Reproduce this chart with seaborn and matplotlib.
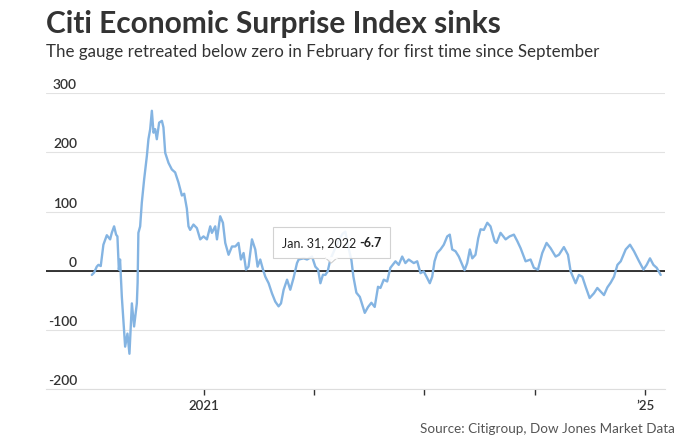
import matplotlib
matplotlib.use("Agg")
import matplotlib.pyplot as plt
import seaborn as sns
import pandas as pd
from matplotlib.patches import Rectangle, Polygon

sns.set_theme(style="white")
plt.rcParams['font.family'] = ['Lato', 'DejaVu Sans']

# Citi Economic Surprise Index (x in fractional years)
years = [
    2019.988, 2020.009, 2020.033, 2020.048, 2020.069, 2020.093, 2020.124, 2020.154,
    2020.169, 2020.190, 2020.208, 2020.220, 2020.233, 2020.244, 2020.260, 2020.274,
    2020.290, 2020.311, 2020.329, 2020.351, 2020.371, 2020.396, 2020.403, 2020.410,
    2020.426, 2020.441, 2020.462, 2020.487, 2020.501, 2020.517, 2020.532, 2020.547,
    2020.562, 2020.577, 2020.598, 2020.623, 2020.637, 2020.653, 2020.683, 2020.713,
    2020.743, 2020.773, 2020.804, 2020.825, 2020.849, 2020.864, 2020.879, 2020.909,
    2020.940, 2020.970, 2021.000, 2021.031, 2021.061, 2021.076, 2021.106, 2021.122,
    2021.151, 2021.176, 2021.197, 2021.227, 2021.258, 2021.288, 2021.317, 2021.339,
    2021.363, 2021.385, 2021.408, 2021.439, 2021.469, 2021.490, 2021.514, 2021.539,
    2021.560, 2021.590, 2021.620, 2021.650, 2021.680, 2021.702, 2021.726, 2021.757,
    2021.786, 2021.816, 2021.847, 2021.862, 2021.907, 2021.938, 2021.983, 2022.013,
    2022.038, 2022.059, 2022.082, 2022.104, 2022.125, 2022.149, 2022.186, 2022.222,
    2022.258, 2022.285, 2022.312, 2022.340, 2022.358, 2022.385, 2022.416, 2022.461,
    2022.491, 2022.521, 2022.551, 2022.581, 2022.603, 2022.633, 2022.664, 2022.693,
    2022.739, 2022.769, 2022.800, 2022.829, 2022.859, 2022.905, 2022.936, 2022.966,
    2022.995, 2023.026, 2023.050, 2023.072, 2023.093, 2023.117, 2023.147, 2023.177,
    2023.208, 2023.231, 2023.253, 2023.283, 2023.313, 2023.344, 2023.365, 2023.389,
    2023.413, 2023.435, 2023.464, 2023.489, 2023.510, 2023.540, 2023.571, 2023.600,
    2023.637, 2023.655, 2023.691, 2023.737, 2023.773, 2023.812, 2023.843, 2023.873,
    2023.918, 2023.963, 2023.993, 2024.030, 2024.069, 2024.108, 2024.145, 2024.190,
    2024.220, 2024.265, 2024.302, 2024.326, 2024.371, 2024.401, 2024.432, 2024.462,
    2024.498, 2024.537, 2024.568, 2024.598, 2024.628, 2024.659, 2024.689, 2024.719,
    2024.750, 2024.780, 2024.825, 2024.864, 2024.900, 2024.946, 2024.986, 2025.015,
    2025.045, 2025.076, 2025.106, 2025.142,
]
values = [
    -7, -3, 7, 10, 8, 44, 60, 53,
    64, 75, 61, 58, 2, 19, -44, -83,
    -128, -106, -140, -55, -94, -55, -20, 64,
    75, 115, 154, 194, 222, 239, 270, 233,
    239, 222, 250, 253, 242, 199, 182, 171,
    166, 149, 127, 130, 105, 75, 69, 78,
    72, 53, 58, 53, 75, 64, 75, 53,
    92, 81, 47, 27, 41, 41, 47, 19,
    30, 2, 7, 53, 36, 7, 19, 2,
    -10, -21, -38, -52, -60, -55, -32, -15,
    -32, -12, 13, 19, 21, 19, 24, 7,
    2, -21, -6.7, -7, -1, 19, 35, 50,
    62, 66, 40, 18, -10, -37, -44, -71,
    -61, -54, -61, -27, -29, -15, -18, 5,
    16, 10, 24, 13, 19, 13, 16, -4,
    -1, -12, -21, -10, 16, 30, 36, 44,
    58, 61, 36, 33, 24, 10, 1, 13,
    36, 21, 27, 55, 70, 69, 81, 75,
    50, 47, 64, 53, 58, 61, 50, 38,
    16, 19, 5, 2, 30, 47, 38, 24,
    27, 40, 27, -1, -21, -7, -10, -27,
    -46, -38, -29, -35, -41, -28, -20, -10,
    10, 16, 36, 44, 33, 16, 2, 10,
    21, 10, 5, -7,
]
y_ticks = [-200, -100, 0, 100, 200, 300]
x_ticks = [2021, 2022, 2023, 2024, 2025]
x_labels = ['2021', '', '', '', '\u201925']
tip_date = 'Jan. 31, 2022'
tip_value = -6.7

LINE_COLOR = '#84b4e2'
TEXT = '#333333'
GRID = '#e2e2e2'

df = pd.DataFrame({'year': years, 'index': values})

fig = plt.figure(figsize=(6.83, 4.48), dpi=100)
ax = fig.add_axes([46 / 683, 58.7 / 448, 619 / 683, 296.3 / 448])

sns.lineplot(data=df, x='year', y='index', ax=ax, color=LINE_COLOR,
             linewidth=1.7, zorder=3)
ax.axhline(0, color='black', linewidth=1.1, zorder=2)

ax.set_xlim(2019.573, 2025.181)
ax.set_ylim(-200, 300)
ax.set_xlabel('')
ax.set_ylabel('')

# horizontal grid, labels sit above the lines
ax.set_yticks(y_ticks)
ax.yaxis.grid(True, color=GRID, linewidth=0.8)
ax.tick_params(axis='y', length=0, labelleft=False)
for v in y_ticks:
    ax.annotate(str(v), xy=(0, v), xycoords=ax.get_yaxis_transform(),
                xytext=(31, 2), textcoords='offset pixels',
                ha='right', va='bottom', fontsize=10, color=TEXT,
                fontweight='semibold')

ax.set_xticks(x_ticks, x_labels)
ax.tick_params(axis='x', length=4, width=1, color=TEXT, pad=4,
               labelsize=9.5, labelcolor=TEXT, bottom=True)
for lab in ax.get_xticklabels():
    lab.set_fontweight('semibold')

for side in ['top', 'left', 'right']:
    ax.spines[side].set_visible(False)
ax.spines['bottom'].set_color('#dddddd')
ax.spines['bottom'].set_linewidth(0.8)

# hover tooltip
box = Rectangle((2021.632, 22), 2022.693 - 2021.632, 74.3 - 22,
                facecolor='white', edgecolor='#cccccc', linewidth=0.8,
                alpha=0.88, zorder=5)
ax.add_patch(box)
notch = Polygon([(2022.103, 22), (2022.157, 13), (2022.211, 22)], closed=False,
                facecolor='white', edgecolor='#cccccc', linewidth=0.8,
                alpha=0.95, zorder=6)
ax.add_patch(notch)
ax.plot([2022.106, 2022.208], [22, 22], color='white', linewidth=1.2, zorder=7)
t = ax.text(2021.713, 47, tip_date + ' ', fontsize=9, color='#222222',
            va='center', ha='left', zorder=8)
ax.annotate(f'{tip_value:.1f}', xy=(1, 0.5), xycoords=t, va='center', ha='left',
            fontsize=9, fontweight='bold', color='#222222', zorder=8)

fig.text(46 / 683, 1 - 33 / 448, 'Citi Economic Surprise Index sinks',
         fontsize=21.5, fontweight='bold', color=TEXT, va='baseline', ha='left')
fig.text(46 / 683, 1 - 57 / 448,
         'The gauge retreated below zero in February for first time since September',
         fontsize=12.2, color=TEXT, va='baseline', ha='left')
fig.text(675 / 683, 1 - 433 / 448, 'Source: Citigroup, Dow Jones Market Data',
         fontsize=9.7, color='#555555', va='baseline', ha='right')

fig.savefig('out.png', dpi=100)
